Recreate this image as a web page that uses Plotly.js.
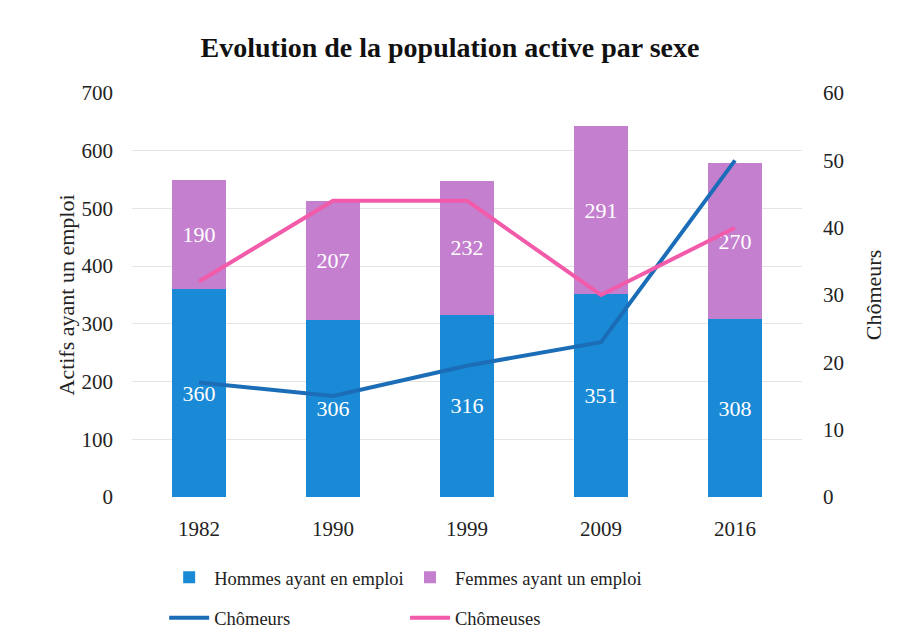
<!DOCTYPE html>
<html><head><meta charset="utf-8">
<script src="https://cdn.plot.ly/plotly-3.0.1.min.js"></script>
<style>body{margin:0;background:#fff}#c{width:900px;height:641px}</style>
</head><body><div id="c"></div>
<script>
const years = ['1982','1990','1999','2009','2016'];
const hommes = [360, 306, 316, 351, 308];
const femmes = [190, 207, 232, 291, 270];
const chomeurs = [17, 15, 19.5, 23, 50];
const chomeuses = [32, 44, 44, 30, 40];

const F = 'Liberation Serif, Times New Roman, serif';
const traces = [
  {type:'bar', name:'Hommes ayant en emploi', x:years, y:hommes, marker:{color:'#1a8ad6'},
   text:hommes.map(String), textposition:'inside', insidetextanchor:'middle',
   textfont:{color:'#ffffff', size:22, family:F}, width:0.4, hoverinfo:'skip', legend:'legend'},
  {type:'bar', name:'Femmes ayant un emploi', x:years, y:femmes, marker:{color:'#c47fcf'},
   text:femmes.map(String), textposition:'inside', insidetextanchor:'middle',
   textfont:{color:'#ffffff', size:22, family:F}, width:0.4, hoverinfo:'skip', legend:'legend2'},
  {type:'scatter', mode:'lines', name:'Chômeurs', x:years, y:chomeurs, yaxis:'y2',
   line:{color:'#1c6db8', width:4}, legend:'legend3'},
  {type:'scatter', mode:'lines', name:'Chômeuses', x:years, y:chomeuses, yaxis:'y2',
   line:{color:'#f25aaa', width:4}, legend:'legend4'}
];
const legBase = {orientation:'h', xanchor:'left', yanchor:'middle',
  font:{size:18.5, family:F, color:'#222'}, itemwidth:40, bgcolor:'rgba(0,0,0,0)'};
const colA = 0.048, colB = 0.4075, rowA = -0.2, rowB = -0.3;
const layout = {
  width:900, height:641, barmode:'stack',
  paper_bgcolor:'#ffffff', plot_bgcolor:'#ffffff',
  margin:{l:132, r:98, t:93, b:144, autoexpand:false},
  font:{family:F, size:21, color:'#222'},
  title:{text:'<b>Evolution de la population active par sexe</b>', x:0.5, xanchor:'center',
         y:0.927, yanchor:'middle', font:{family:F, size:28, color:'#111'}},
  xaxis:{type:'category', showgrid:false, zeroline:false, showline:false, ticks:'',
         tickfont:{size:21}, ticklabelstandoff:17, automargin:false},
  yaxis:{range:[0,700], dtick:100, showgrid:true, gridcolor:'#e4e4e4', zeroline:false, automargin:false,
         title:{text:'Actifs ayant un emploi', font:{size:22}, standoff:0}, ticks:'', tickfont:{size:21},
         ticklabelstandoff:18},
  yaxis2:{range:[0,60], dtick:10, overlaying:'y', side:'right', showgrid:false, zeroline:false, automargin:false,
          title:{text:'Chômeurs', font:{size:22}, standoff:22}, ticks:'', tickfont:{size:21},
          ticklabelstandoff:20},
  legend:Object.assign({}, legBase, {x:colA, y:rowA}),
  legend2:Object.assign({}, legBase, {x:colB, y:rowA}),
  legend3:Object.assign({}, legBase, {x:colA, y:rowB}),
  legend4:Object.assign({}, legBase, {x:colB, y:rowB}),
  showlegend:true
};
Plotly.newPlot('c', traces, layout, {displayModeBar:false, staticPlot:true});
</script></body></html>
